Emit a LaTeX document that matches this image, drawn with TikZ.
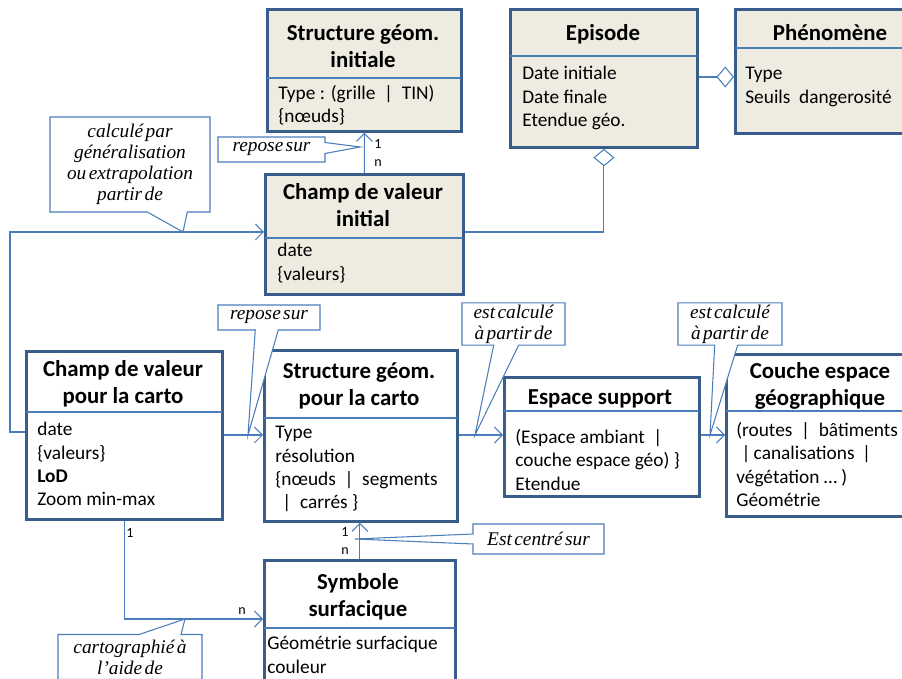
\documentclass[tikz,border=0pt]{standalone}
\usepackage{fontspec}
\setmainfont{Carlito}
\newfontfamily\notefont{Liberation Serif}[WordSpace=0.5]
\usetikzlibrary{arrows.meta,shapes.callouts}
\definecolor{boxblue}{RGB}{56,93,138}
\definecolor{lineblue}{RGB}{74,126,187}
\definecolor{boxtan}{RGB}{238,236,225}

\begin{document}
\begin{tikzpicture}[
  classbox/.style={rectangle, draw=boxblue, line width=1.6pt, fill=white, anchor=north west, inner sep=0pt},
  initbox/.style={classbox, fill=boxtan},
  classtitle/.style={font=\fontsize{13}{15.5}\selectfont\bfseries, align=center, inner sep=0pt},
  classattr/.style={font=\fontsize{11}{13.3}\selectfont, align=left, anchor=north west, inner sep=0pt},
  sepline/.style={draw=lineblue, line width=0.6pt, shorten <=0.8pt, shorten >=0.8pt},
  link/.style={draw=lineblue, line width=0.6pt, -{Straight Barb[length=4.5pt, width=9pt]}},
  aggr/.style={draw=lineblue, line width=0.6pt, -{Diamond[open, length=10pt, width=12pt]}},
  note/.style={rectangle callout, draw=lineblue, line width=0.6pt, fill=white, inner sep=1pt, align=center,
    font=\notefont\itshape\fontsize{11}{12}\selectfont},
  mult/.style={font=\fontsize{8}{9}\selectfont, inner sep=0pt}
]
\useasboundingbox (0,0) rectangle (18.04,-13.58);

% Class boxes
\node[initbox, minimum width=3.88cm, minimum height=2.44cm] (sgi) at (5.32,-0.16) {};
\node[initbox, minimum width=3.74cm, minimum height=2.76cm] (ep) at (10.18,-0.16) {};
\node[initbox, minimum width=3.84cm, minimum height=2.48cm] (phen) at (14.68,-0.16) {};
\node[initbox, minimum width=3.96cm, minimum height=2.40cm] (cvi) at (5.28,-3.46) {};
\node[classbox, minimum width=3.92cm, minimum height=3.36cm] (cvc) at (0.50,-7.00) {};
\node[classbox, minimum width=3.86cm, minimum height=3.42cm] (sgc) at (5.26,-6.98) {};
\node[classbox, minimum width=3.90cm, minimum height=2.38cm] (es) at (10.06,-7.52) {};
\node[classbox, minimum width=3.80cm, minimum height=3.24cm] (ceg) at (14.50,-7.06) {};
\node[classbox, minimum width=3.82cm, minimum height=2.60cm] (ss) at (5.26,-11.18) {};

% Separators
\draw[sepline] (sgi.west |- 0,-1.56) -- (sgi.east |- 0,-1.56);
\draw[sepline] (ep.west |- 0,-1.12) -- (ep.east |- 0,-1.12);
\draw[sepline] (phen.west |- 0,-0.96) -- (phen.east |- 0,-0.96);
\draw[sepline] (cvi.west |- 0,-4.76) -- (cvi.east |- 0,-4.76);
\draw[sepline] (cvc.west |- 0,-8.24) -- (cvc.east |- 0,-8.24);
\draw[sepline] (sgc.west |- 0,-8.36) -- (sgc.east |- 0,-8.36);
\draw[sepline] (es.west |- 0,-8.22) -- (es.east |- 0,-8.22);
\draw[sepline] (ceg.west |- 0,-8.22) -- (ceg.east |- 0,-8.22);
\draw[sepline] (ss.west |- 0,-12.56) -- (ss.east |- 0,-12.56);

% Titles
\node[classtitle] (sgi-title) at (7.26,-0.92) {Structure géom.\\initiale};
\node[classtitle] (ep-title) at (12.06,-0.68) {Episode};
\node[classtitle] (phen-title) at (16.60,-0.66) {Phénomène};
\node[classtitle] (cvi-title) at (7.26,-4.10) {Champ de valeur\\initial};
\node[classtitle] (cvc-title) at (2.46,-7.68) {Champ de valeur\\pour la carto};
\node[classtitle] (sgc-title) at (7.18,-7.72) {Structure géom.\\pour la carto};
\node[classtitle] (es-title) at (12.00,-7.98) {Espace support};
\node[classtitle] (ceg-title) at (16.40,-7.72) {Couche espace\\géographique};
\node[classtitle] (ss-title) at (7.16,-11.94) {Symbole\\surfacique};

% Attributes
\node[classattr] (sgi-attr) at (5.56,-1.70) {Type : (grille \ | \ TIN)\\\{nœuds\}};
\node[classattr] (ep-attr) at (10.44,-1.32) {Date initiale\\Date finale\\Etendue géo.};
\node[classattr] (phen-attr) at (14.90,-1.34) {Type\\Seuils~ dangerosité};
\node[classattr] (cvi-attr) at (5.54,-4.86) {date\\\{valeurs\}};
\node[classattr] (cvc-attr) at (0.74,-8.44) {date\\\{valeurs\}\\\textbf{LoD}\\Zoom min-max};
\node[classattr] (sgc-attr) at (5.50,-8.52) {Type\\résolution\\\{nœuds \ | \ segments\\\hspace*{4pt}| \ carrés \}};
\node[classattr] (es-attr) at (10.30,-8.58) {(Espace ambiant \ |\\couche espace géo) \}\\Etendue};
\node[classattr] (ceg-attr) at (14.72,-8.44) {(routes \ | \ bâtiments\\\hspace*{3pt}|\,canalisations \,|\\végétation … )\\Géométrie};
\node[classattr] (ss-attr) at (5.34,-12.72) {Géométrie surfacique\\couleur};

% Connectors
\draw[link] (cvi.north) -- (sgi.south);
\draw[aggr] (cvi.east |- 0,-4.64) -| (ep.south);
\draw[aggr] (ep.east |- 0,-1.54) -- (phen.west |- 0,-1.54);
\draw[link] (cvc.west |- 0,-8.64) -- (0.20,-8.64) |- (cvi.west |- 0,-4.64);
\draw[link] (cvc.east |- 0,-8.70) -- (sgc.west |- 0,-8.70);
\draw[link] (sgc.east |- 0,-8.70) -- (es.west |- 0,-8.70);
\draw[link] (es.east |- 0,-8.70) -- (ceg.west |- 0,-8.70);
\draw[link] (cvc.south) |- (ss.west |- 0,-12.38);
\draw[link] (ss.north) -- (ss.north |- sgc.south);

% Multiplicities
\node[mult] (m-sgi) at (7.56,-2.88) {1};
\node[mult] (m-cvi) at (7.56,-3.26) {n};
\node[mult] (m-cvc) at (2.60,-10.66) {1};
\node[mult] (m-ss1) at (4.84,-12.22) {n};
\node[mult] (m-sgc) at (6.90,-10.64) {1};
\node[mult] (m-ss2) at (6.90,-11.02) {n};

% Callout tips
\coordinate (tip1) at (3.66,-4.64);
\coordinate (tip2) at (7.20,-2.94);
\coordinate (tip3) at (4.96,-8.70);
\coordinate (tip4) at (9.50,-8.70);
\coordinate (tip5) at (14.20,-8.70);
\coordinate (tip6) at (3.70,-12.38);
\coordinate (tip7) at (7.10,-10.78);

% Callouts
\node[note, minimum width=3.2cm, minimum height=1.9cm, callout absolute pointer={(tip1)}, callout pointer width=0.8cm] (n-calc) at (2.60,-3.29) {calculé par\\généralisation\\ou extrapolation\\partir de};
\node[note, minimum width=2.14cm, minimum height=0.5cm, callout absolute pointer={(tip2)}, callout pointer width=0.22cm] (n-rep1) at (5.43,-2.99) {repose sur};
\node[note, minimum width=2.04cm, minimum height=0.5cm, callout absolute pointer={(tip3)}, callout pointer width=0.46cm] (n-rep2) at (5.38,-6.35) {repose sur};
\node[note, minimum width=2.06cm, minimum height=0.76cm, callout absolute pointer={(tip4)}, callout pointer width=0.5cm] (n-est1) at (10.27,-6.48) {est calculé\\à partir de};
\node[note, minimum width=2.08cm, minimum height=0.76cm, callout absolute pointer={(tip5)}, callout pointer width=0.46cm] (n-est2) at (14.60,-6.48) {est calculé\\à partir de};
\node[note, minimum width=2.88cm, minimum height=0.9cm, callout absolute pointer={(tip6)}, callout pointer width=0.84cm] (n-carto) at (2.60,-13.14) {cartographié à\\l’aide de};
\node[note, minimum width=2.62cm, minimum height=0.6cm, callout absolute pointer={(tip7)}, callout pointer width=0.2cm] (n-centre) at (10.77,-10.78) {Est centré sur};

\end{tikzpicture}
\end{document}
